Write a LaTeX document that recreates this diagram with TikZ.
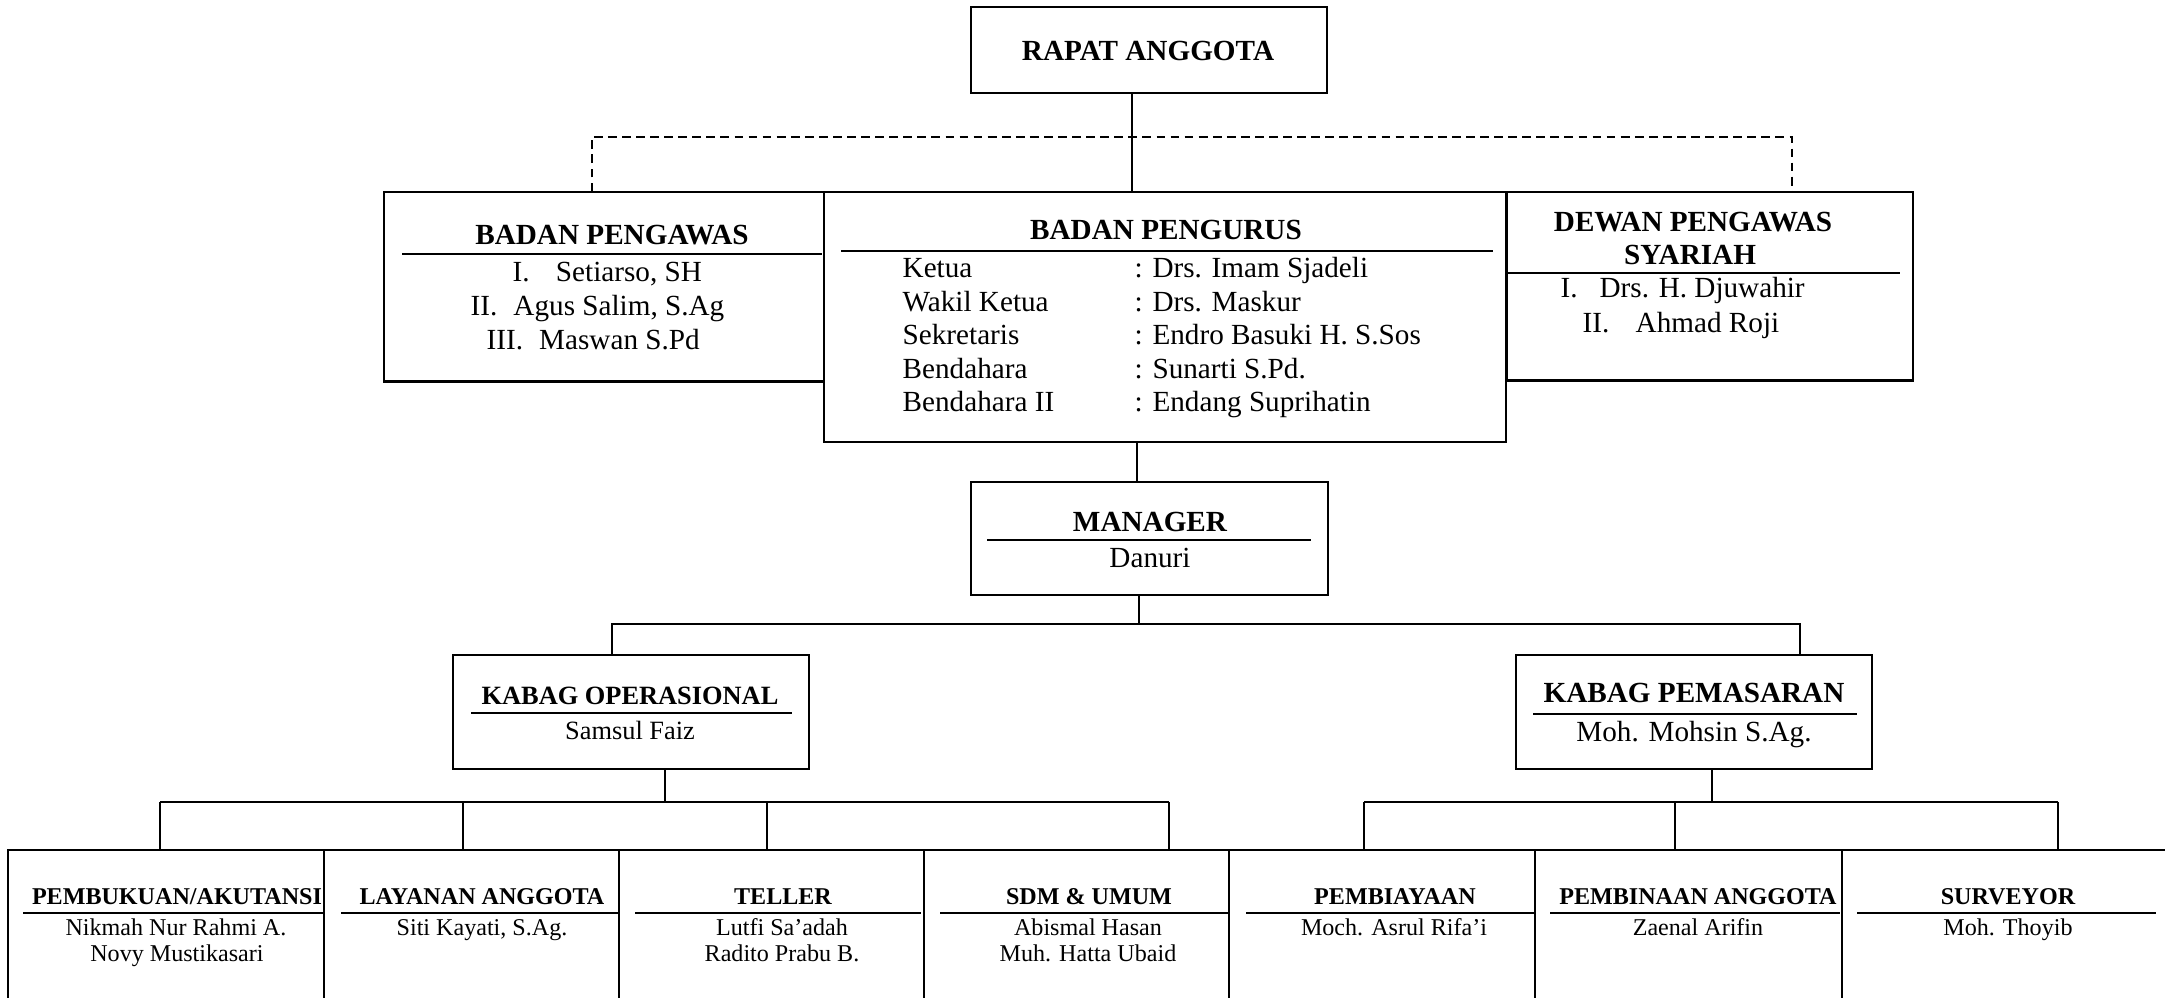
\documentclass[tikz,border=0pt]{standalone}
\usepackage{fontspec}
\setmainfont{Liberation Serif}
\tikzset{
	orgbox/.style={draw, fill=white, line width=0.6pt, inner sep=0pt},
	uline/.style={line width=0.75pt},
	conn/.style={line width=0.5pt},
	ttl/.style={font=\fontsize{8.3}{10}\selectfont\bfseries, anchor=base, inner sep=0pt},
	nm/.style={font=\fontsize{8.3}{10}\selectfont, anchor=base, inner sep=0pt},
	sttl/.style={font=\fontsize{6.85}{8}\selectfont\bfseries, anchor=base, inner sep=0pt},
	snm/.style={font=\fontsize{6.85}{8}\selectfont, anchor=base, inner sep=0pt}
}
\begin{document}
\begin{tikzpicture}[x=0.01cm, y=-0.01cm]
	\useasboundingbox (0,0) rectangle (2165,998);
	% rapat anggota
	\node (rapat) at (1149,50) [orgbox, minimum width=3.56cm, minimum height=0.86cm] {};
	\node (rapatT) at (1148,61) [ttl] {RAPAT ANGGOTA};
	% badan pengawas
	\node (pengawas) at (604.5,287) [orgbox, minimum width=4.40cm, minimum height=1.89cm] {};
	\node (pengawasT) at (612,245) [ttl] {BADAN PENGAWAS};
	\draw[uline] (402,254) -- (822,254);
	\node (pengawas1) at (512,282) [nm, anchor=base west] {I.\hspace{0.9em}Setiarso, SH};
	\node (pengawas2) at (470,316) [nm, anchor=base west] {II.\hspace{0.55em}Agus Salim, S.Ag};
	\node (pengawas3) at (486,350) [nm, anchor=base west] {III.\hspace{0.55em}Maswan S.Pd};
	% dewan pengawas syariah
	\node (dps) at (1710,286.5) [orgbox, minimum width=4.06cm, minimum height=1.88cm] {};
	\node (dpsT1) at (1693,232) [ttl] {DEWAN PENGAWAS};
	\node (dpsT2) at (1690,265) [ttl] {SYARIAH};
	\draw[uline] (1508,273) -- (1900,273);
	\node (dps1) at (1560,298) [nm, anchor=base west] {I.\hspace{0.75em}Drs. H. Djuwahir};
	\node (dps2) at (1582,333) [nm, anchor=base west] {II.\hspace{0.9em}Ahmad Roji};
	% badan pengurus
	\node (pengurus) at (1165,317) [orgbox, minimum width=6.82cm, minimum height=2.50cm] {};
	\node (pengurusT) at (1166,240) [ttl] {BADAN PENGURUS};
	\draw[uline] (841,251) -- (1493,251);
	\node (ketua) at (902,278) [nm, anchor=base west] {Ketua};
	\node (ketuaN) at (1134,278) [nm, anchor=base west] {: Drs. Imam Sjadeli};
	\node (wakil) at (902,311.5) [nm, anchor=base west] {Wakil Ketua};
	\node (wakilN) at (1134,311.5) [nm, anchor=base west] {: Drs. Maskur};
	\node (sekre) at (902,345) [nm, anchor=base west] {Sekretaris};
	\node (sekreN) at (1134,345) [nm, anchor=base west] {: Endro Basuki H. S.Sos};
	\node (benda) at (902,378.5) [nm, anchor=base west] {Bendahara};
	\node (bendaN) at (1134,378.5) [nm, anchor=base west] {: Sunarti S.Pd.};
	\node (bendb) at (902,412) [nm, anchor=base west] {Bendahara II};
	\node (bendbN) at (1134,412) [nm, anchor=base west] {: Endang Suprihatin};
	% manager
	\node (manager) at (1149.5,538.5) [orgbox, minimum width=3.56cm, minimum height=1.13cm] {};
	\node (managerT) at (1150,532) [ttl] {MANAGER};
	\draw[uline] (987,540) -- (1311,540);
	\node (managerN) at (1150,568) [nm] {Danuri};
	% kabag
	\node (kop) at (631,712) [orgbox, minimum width=3.56cm, minimum height=1.14cm] {};
	\node (kopT) at (630,705) [ttl, font=\fontsize{7.5}{9}\selectfont\bfseries] {KABAG OPERASIONAL};
	\draw[uline] (471,713) -- (792,713);
	\node (kopN) at (630,740) [nm, font=\fontsize{7.5}{9}\selectfont] {Samsul Faiz};
	\node (kpem) at (1694,712) [orgbox, minimum width=3.56cm, minimum height=1.14cm] {};
	\node (kpemT) at (1694,703) [ttl] {KABAG PEMASARAN};
	\draw[uline] (1533,714) -- (1857,714);
	\node (kpemN) at (1694,742) [nm] {Moh. Mohsin S.Ag.};
	% unit bawah
	\node (pembukuan) at (166,930) [orgbox, minimum width=3.16cm, minimum height=1.60cm] {};
	\node (layanan) at (471.5,930) [orgbox, minimum width=2.95cm, minimum height=1.60cm] {};
	\node (teller) at (771.5,930) [orgbox, minimum width=3.05cm, minimum height=1.60cm] {};
	\node (sdm) at (1076.5,930) [orgbox, minimum width=3.05cm, minimum height=1.60cm] {};
	\node (pembiayaan) at (1382,930) [orgbox, minimum width=3.06cm, minimum height=1.60cm] {};
	\node (pembinaan) at (1688.5,930) [orgbox, minimum width=3.07cm, minimum height=1.60cm] {};
	\node (surveyor) at (2007,930) [orgbox, minimum width=3.30cm, minimum height=1.60cm] {};
	\node (pembukuanT) at (177,905) [sttl] {PEMBUKUAN/AKUTANSI};
	\draw[uline] (23,913) -- (323,913);
	\node (pembukuan1) at (176,936) [snm] {Nikmah Nur Rahmi A.};
	\node (pembukuan2) at (177,962) [snm] {Novy Mustikasari};
	\node (layananT) at (482,905) [sttl] {LAYANAN ANGGOTA};
	\draw[uline] (341,913) -- (618,913);
	\node (layanan1) at (482,936) [snm] {Siti Kayati, S.Ag.};
	\node (tellerT) at (783,905) [sttl] {TELLER};
	\draw[uline] (635,913) -- (921,913);
	\node (teller1) at (782,936) [snm] {Lutfi Sa’adah};
	\node (teller2) at (782,962) [snm] {Radito Prabu B.};
	\node (sdmT) at (1089,905) [sttl] {SDM \& UMUM};
	\draw[uline] (940,913) -- (1229,913);
	\node (sdm1) at (1088,936) [snm] {Abismal Hasan};
	\node (sdm2) at (1088,962) [snm] {Muh. Hatta Ubaid};
	\node (pembiayaanT) at (1395,905) [sttl] {PEMBIAYAAN};
	\draw[uline] (1246,913) -- (1535,913);
	\node (pembiayaan1) at (1394,936) [snm] {Moch. Asrul Rifa’i};
	\node (pembinaanT) at (1698,905) [sttl] {PEMBINAAN ANGGOTA};
	\draw[uline] (1550,913) -- (1840,913);
	\node (pembinaan1) at (1698,936) [snm] {Zaenal Arifin};
	\node (surveyorT) at (2008,905) [sttl] {SURVEYOR};
	\draw[uline] (1857,913) -- (2156,913);
	\node (surveyor1) at (2008,936) [snm] {Moh. Thoyib};
	% garis
	\coordinate (r1) at (1132,0);
	\coordinate (d1) at (592,137);
	\coordinate (d2) at (1792,137);
	\coordinate (g1) at (1137,0);
	\coordinate (m1) at (1139,624);
	\coordinate (m2) at (612,624);
	\coordinate (m3) at (1800,624);
	\coordinate (o0) at (665,802);
	\coordinate (o1) at (160,802);
	\coordinate (o2) at (463,802);
	\coordinate (o3) at (767,802);
	\coordinate (o4) at (1169,802);
	\coordinate (p0) at (1712,802);
	\coordinate (p1) at (1364,802);
	\coordinate (p2) at (1675,802);
	\coordinate (p3) at (2058,802);
	\draw[conn] (rapat.south -| r1) -- (pengurus.north -| r1);
	\draw[conn, dash pattern=on 2.5pt off 1.5pt] (pengawas.north -| d1) -- (d1) -- (d2) -- (dps.north -| d2);
	\draw[conn] (pengurus.south -| g1) -- (manager.north -| g1);
	\draw[conn] (manager.south -| m1) -- (m1);
	\draw[conn] (kop.north -| m2) -- (m2) -- (m3) -- (kpem.north -| m3);
	\draw[conn] (kop.south -| o0) -- (o0);
	\draw[conn] (o1) -- (o4);
	\draw[conn] (o1) -- (pembukuan.north -| o1);
	\draw[conn] (o2) -- (layanan.north -| o2);
	\draw[conn] (o3) -- (teller.north -| o3);
	\draw[conn] (o4) -- (sdm.north -| o4);
	\draw[conn] (kpem.south -| p0) -- (p0);
	\draw[conn] (p1) -- (p3);
	\draw[conn] (p1) -- (pembiayaan.north -| p1);
	\draw[conn] (p2) -- (pembinaan.north -| p2);
	\draw[conn] (p3) -- (surveyor.north -| p3);
\end{tikzpicture}
\end{document}
